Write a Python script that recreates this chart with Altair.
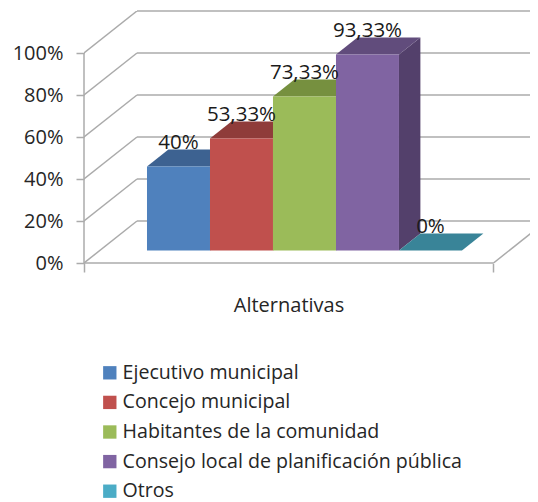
import altair as alt
import pandas as pd

names = ["Ejecutivo municipal", "Concejo municipal", "Habitantes de la comunidad",
         "Consejo local de planificación pública", "Otros"]
values = [40, 53.33, 73.33, 93.33, 0]
labels = ["40%", "53,33%", "73,33%", "93,33%", "0%"]
front_colors = ["#4F81BD", "#C0504D", "#9BBB59", "#8064A2", "#4BACC6"]
top_colors = ["#3D6291", "#8F3C3A", "#76903F", "#614C7C", "#398498"]
side_colors = ["#34547C", "#7A3331", "#65793A", "#53406B", "#317283"]
ticks = [0, 20, 40, 60, 80, 100]

XMAX = 7.08       # x units are bar widths
YMAX = 120        # y units are percent
FLOOR_END = 6.5
WALL_DX, WALL_DY = 0.841, 20
BAR_X0, BAR_Y0 = 1.0, 6
BAR_DX, BAR_DY = 0.34, 8
GRID = "#ABABAB"
FONT = "Open Sans"
TEXT = "#262626"

xs = alt.Scale(domain=[0, XMAX], nice=False, zero=False)
ys = alt.Scale(domain=[0, YMAX], nice=False, zero=False)

x_axis = alt.Axis(values=[0, FLOOR_END], labels=False, domain=False, grid=False, tickSize=9,
                  tickColor=GRID, tickWidth=1.5, title="Alternativas", titleFont=FONT,
                  titleFontSize=20, titleFontWeight="normal", titleColor=TEXT,
                  titleX=204.5, titleY=32, titleAlign="center")
y_axis = alt.Axis(values=ticks, domain=False, grid=False, tickSize=8, tickColor=GRID,
                  tickWidth=1.5, labelFont=FONT, labelFontSize=20, labelColor=TEXT,
                  labelPadding=13, labelExpr="datum.value + '%'", title=None)


def X(f="x"):
    return alt.X(f"{f}:Q", scale=xs, axis=x_axis)


def Y(f="y"):
    return alt.Y(f"{f}:Q", scale=ys, axis=y_axis)


layers = []

# left axis line
layers.append(alt.Chart(pd.DataFrame({"x": [0], "y": [0], "y2": [100]}))
              .mark_rule(color=GRID, strokeWidth=1.5)
              .encode(x=X(), y=Y(), y2=alt.Y2("y2")))

# left wall diagonals (plus the floor's right edge), clipped by the plot edge
diag = []
for v in ticks:
    diag += [{"s": v, "x": 0, "y": v}, {"s": v, "x": WALL_DX, "y": v + WALL_DY}]
diag += [{"s": -1, "x": FLOOR_END, "y": 0}, {"s": -1, "x": FLOOR_END + WALL_DX, "y": WALL_DY}]
layers.append(alt.Chart(pd.DataFrame(diag)).mark_line(color=GRID, strokeWidth=1.5, clip=True)
              .encode(x=X(), y=Y(), detail="s:N"))

# back wall grid lines
back = pd.DataFrame({"x": [WALL_DX] * len(ticks), "x2": [XMAX] * len(ticks),
                     "y": [v + WALL_DY for v in ticks]})
layers.append(alt.Chart(back).mark_rule(color=GRID, strokeWidth=1.5)
              .encode(x=X(), x2=alt.X2("x2"), y=Y()))

# front floor edge
layers.append(alt.Chart(pd.DataFrame({"x": [0], "x2": [FLOOR_END], "y": [0]}))
              .mark_rule(color=GRID, strokeWidth=1.5)
              .encode(x=X(), x2=alt.X2("x2"), y=Y()))

# bar sides and tops
for i, (val, side_c) in enumerate(zip(values, side_colors)):
    b = BAR_X0 + i + 1
    top = BAR_Y0 + val
    side = pd.DataFrame({"x": [b, b + BAR_DX],
                         "y": [BAR_Y0, BAR_Y0 + BAR_DY],
                         "y2": [top, top + BAR_DY]})
    layers.append(alt.Chart(side).mark_area(color=side_c, opacity=1, orient="vertical")
                  .encode(x=X(), y=Y(), y2=alt.Y2("y2")))
for i, (val, top_c) in enumerate(zip(values, top_colors)):
    a, b = BAR_X0 + i, BAR_X0 + i + 1
    top = BAR_Y0 + val
    face = pd.DataFrame({"y": [top, top + BAR_DY],
                         "x": [a, a + BAR_DX],
                         "x2": [b, b + BAR_DX]})
    layers.append(alt.Chart(face).mark_area(color=top_c, opacity=1, orient="horizontal")
                  .encode(y=Y(), x=X(), x2=alt.X2("x2")))

# front faces with legend
bars = pd.DataFrame({"name": names, "value": values, "label": labels,
                     "x": [BAR_X0 + i for i in range(5)],
                     "x2": [BAR_X0 + i + 1 for i in range(5)],
                     "xc": [BAR_X0 + i + 0.5 for i in range(5)],
                     "y": [BAR_Y0] * 5,
                     "y2": [BAR_Y0 + v for v in values]})
legend = alt.Legend(title=None, orient="none", legendX=16, legendY=352, symbolType="square",
                    symbolSize=178, symbolStrokeWidth=0, labelFont=FONT, labelFontSize=19.6,
                    labelColor=TEXT, labelLimit=400, rowPadding=8.6, labelOffset=3,
                    symbolOpacity=1)
layers.append(alt.Chart(bars).mark_rect(opacity=1)
              .encode(x=X(), x2=alt.X2("x2"), y=Y(), y2=alt.Y2("y2"),
                      color=alt.Color("name:N", sort=names,
                                      scale=alt.Scale(domain=names, range=front_colors),
                                      legend=legend)))

# value labels
layers.append(alt.Chart(bars).mark_text(font=FONT, fontSize=20.5, color="#1a1a1a",
                                        baseline="middle", dy=-23)
              .encode(x=X("xc"), y=Y("y2"), text="label:N"))

chart = alt.layer(*layers).properties(
    width=446, height=252,
    padding={"left": 76, "top": 3, "right": 0, "bottom": 239},
    autosize=alt.AutoSizeParams(type="none"),
    background="white",
).configure_view(stroke=None)

chart.save("out.html", embed_options={"renderer": "svg", "actions": False})
